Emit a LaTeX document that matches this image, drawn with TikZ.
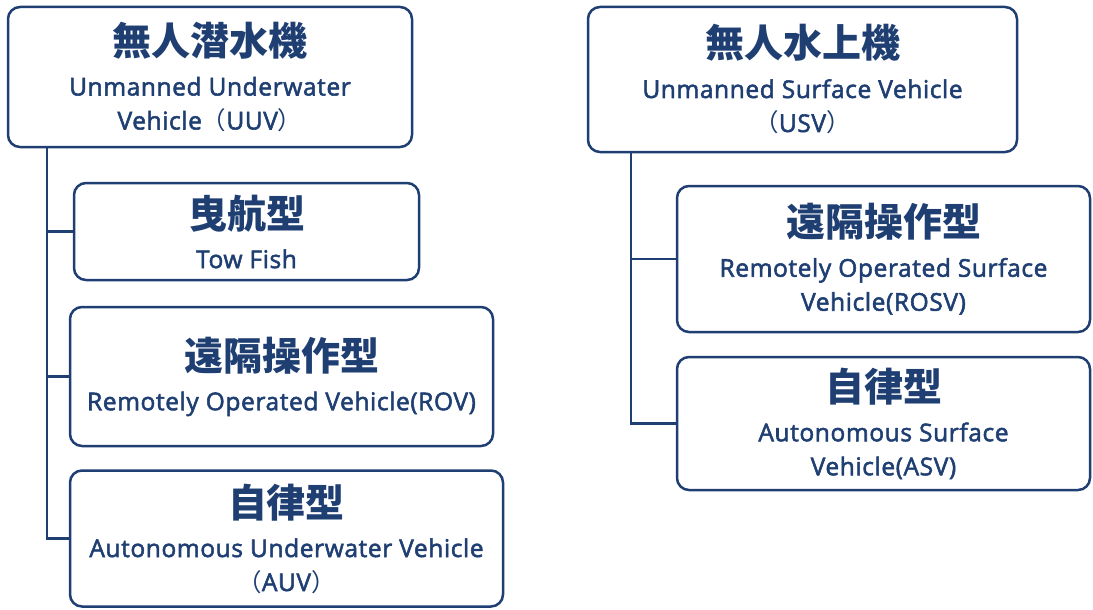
\documentclass[tikz,border=0pt]{standalone}
\usepackage{fontspec}
\setmainfont{Open Sans}[FakeBold=2.2, LetterSpace=2.5]
\newfontfamily\jp{Noto Sans CJK JP}
\definecolor{navy}{HTML}{1F3F73}
\newcommand\fwp[1]{{\jp （}#1{\jp ）}}
\newcommand\ttl[1]{{\jp\bfseries\fontsize{39}{39}\selectfont #1}\\[6pt]}
\tikzset{
  box/.style={draw=navy, line width=2.5pt, rounded corners=12pt, inner sep=0pt,
    align=center, text=navy, font=\fontsize{24.5}{34}\selectfont},
  link/.style={draw=navy, line width=2.5pt}
}
\begin{document}
\begin{tikzpicture}[x=1pt, y=-1pt]
\useasboundingbox (0,0) rectangle (1093,610);
% left tree
\node[box, minimum width=404pt, minimum height=140pt] (uuv) at (210,77)
  {\ttl{無人潜水機}Unmanned Underwater\\Vehicle\fwp{UUV}};
\node[box, minimum width=345pt, minimum height=97pt] (tow) at (246.5,231.5)
  {\ttl{曳航型}Tow Fish};
\node[box, minimum width=423pt, minimum height=139pt] (rov) at (281.5,376.5)
  {\ttl{遠隔操作型}Remotely Operated Vehicle(ROV)};
\node[box, minimum width=433pt, minimum height=136pt] (auv) at (286.5,538.5)
  {\ttl{自律型}Autonomous Underwater Vehicle\\\fwp{AUV}};
% right tree
\node[box, minimum width=429pt, minimum height=145pt] (usv) at (802.5,79.5)
  {\ttl{無人水上機}Unmanned Surface Vehicle\\\fwp{USV}};
\node[box, minimum width=413pt, minimum height=146pt] (rosv) at (883.5,259)
  {\ttl{遠隔操作型}Remotely Operated Surface\\Vehicle(ROSV)};
\node[box, minimum width=413pt, minimum height=133pt] (asv) at (883.5,423.5)
  {\ttl{自律型}Autonomous Surface\\Vehicle(ASV)};
% connectors
\coordinate (ua) at ([xshift=40pt]uuv.south west);
\draw[link] (ua) |- (auv.west);
\draw[link] (ua |- tow.west) -- (tow.west);
\draw[link] (ua |- rov.west) -- (rov.west);
\coordinate (sa) at ([xshift=44pt]usv.south west);
\draw[link] (sa) |- (asv.west);
\draw[link] (sa |- rosv.west) -- (rosv.west);
\end{tikzpicture}
\end{document}
